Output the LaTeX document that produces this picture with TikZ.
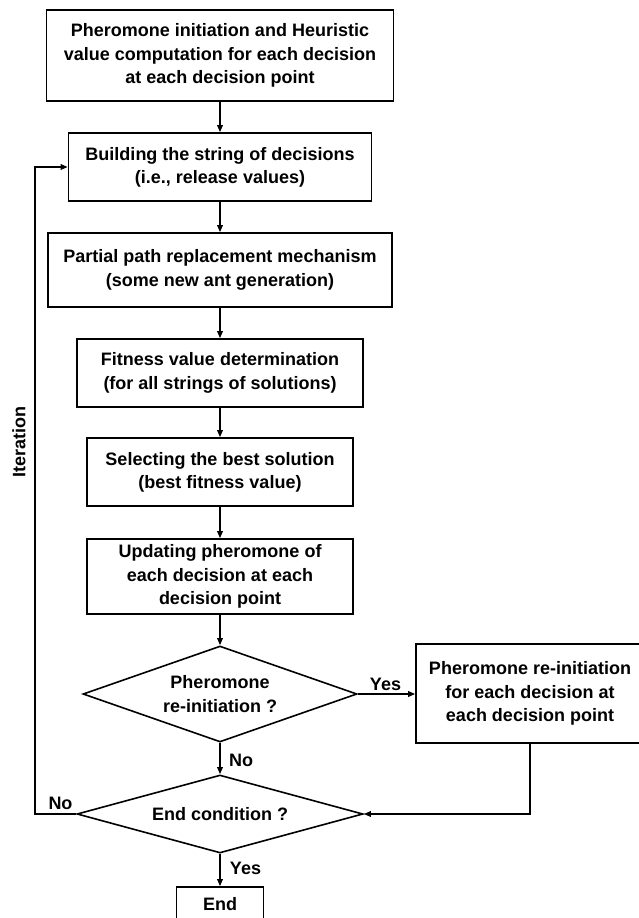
\documentclass[tikz,border=0pt]{standalone}
\usepackage{fontspec}
\setmainfont{Liberation Sans}
\usetikzlibrary{arrows.meta,shapes.geometric}
\begin{document}
\begin{tikzpicture}[x=1pt,y=-1pt,
  txt/.style={font=\bfseries\fontsize{18}{23.3}\selectfont},
  box/.style={txt, draw, line width=1.6pt, rectangle, inner sep=0pt, align=center},
  dec/.style={txt, draw, line width=1.6pt, diamond, inner sep=0pt, align=center},
  arr/.style={line width=1.6pt, -{Triangle[length=7pt,width=5.5pt]}},
  lbl/.style={txt, inner sep=0pt}]
\useasboundingbox (0,0) rectangle (639,918);
\clip (0,0) rectangle (639,918);
\node[box, minimum width=347pt, minimum height=91pt] (b1) at (220,55.5)
  {Pheromone initiation and Heuristic\\value computation for each decision\\at each decision point};
\node[box, minimum width=303pt, minimum height=68pt] (b2) at (220,167)
  {Building the string of decisions\\(i.e., release values)};
\node[box, minimum width=344pt, minimum height=74pt] (b3) at (220,270)
  {Partial path replacement mechanism\\(some new ant generation)};
\node[box, minimum width=286pt, minimum height=68pt] (b4) at (220,373)
  {Fitness value determination\\ (for all strings of solutions)};
\node[box, minimum width=266pt, minimum height=68pt] (b5) at (220,472)
  {Selecting the best solution\\(best fitness value)};
\node[box, minimum width=266pt, minimum height=75pt] (b6) at (220,576.5)
  {Updating pheromone of\\each decision at each\\decision point};
\node[dec, minimum width=274pt, minimum height=96pt, aspect=2.85] (d1) at (220,694)
  {Pheromone\\re-initiation ?};
\node[box, minimum width=228pt, minimum height=99pt] (b7) at (530,693.5)
  {Pheromone re-initiation\\for each decision at\\each decision point};
\node[dec, minimum width=286pt, minimum height=78pt, aspect=3.67] (d2) at (220,814)
  {End condition ?};
\node[box, minimum width=87pt, minimum height=34pt] (end) at (220,904) {End};
\coordinate (fb) at (35,814);

\draw[arr] (b1) -- (b2);
\draw[arr] (b2) -- (b3);
\draw[arr] (b3) -- (b4);
\draw[arr] (b4) -- (b5);
\draw[arr] (b5) -- (b6);
\draw[arr] (b6) -- (d1);
\draw[arr] (d1.east) -- (d1.east -| b7.west);
\draw[arr] (d1) -- (d2);
\draw[arr] (b7.south) |- (d2.east);
\draw[arr] (d2.west) -- (fb) |- (b2.west);
\draw[arr] (d2) -- (end);

\node[lbl] (yes1) at (385.5,684) {Yes};
\node[lbl] (no1) at (241,760) {No};
\node[lbl] (no2) at (60.5,803) {No};
\node[lbl] (yes2) at (245.5,868) {Yes};
\node[lbl, rotate=90] (iter) at (19,442) {Iteration};
\end{tikzpicture}
\end{document}
